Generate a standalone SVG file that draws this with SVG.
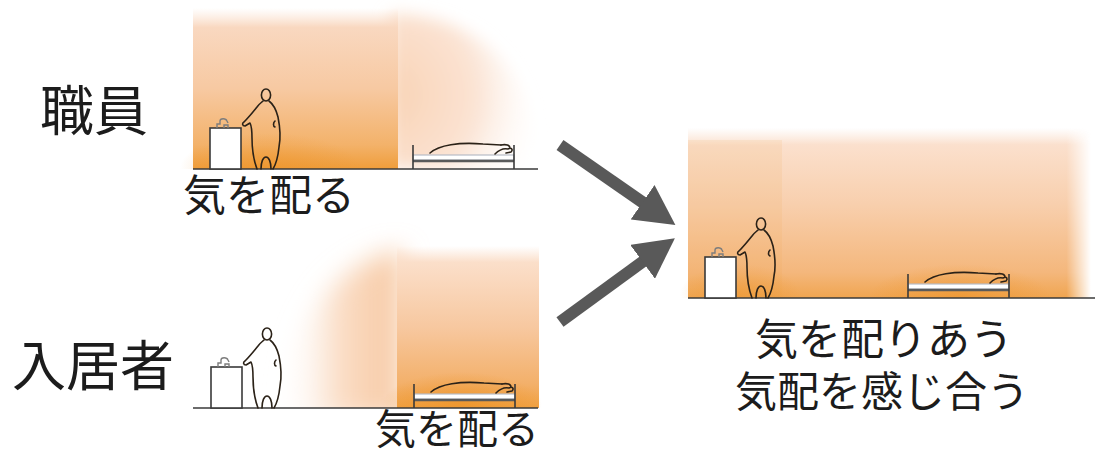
<svg xmlns="http://www.w3.org/2000/svg" xmlns:xlink="http://www.w3.org/1999/xlink" width="1095" height="455" viewBox="0 0 1095 455">
<style>
  .ln{fill:none;stroke:#2b2218;stroke-width:1.6;stroke-linecap:round;stroke-linejoin:round}
  .floor{stroke:#3a3a3a;stroke-width:1.6}
  .lbl{font-family:"Noto Sans CJK JP","Noto Sans CJK SC",sans-serif;fill:#1c1c1c}
  .arrow{stroke:#595959;stroke-width:12;fill:none}
</style>
<defs>
  <filter id="soft" x="-20%" y="-20%" width="140%" height="140%"><feGaussianBlur stdDeviation="8"/></filter>
  <filter id="softer" x="-30%" y="-30%" width="160%" height="160%"><feGaussianBlur stdDeviation="13"/></filter>

  <!-- each room's wash stays above its floor line -->
  <clipPath id="room1"><rect x="150" y="0" width="400" height="169"/></clipPath>
  <clipPath id="room2"><rect x="150" y="200" width="400" height="208"/></clipPath>
  <clipPath id="room3"><rect x="680" y="110" width="415" height="188"/></clipPath>

  <!-- warm vertical wash: pale at the ceiling, deep orange at the floor -->
  <linearGradient id="warmV1" x1="0" y1="8" x2="0" y2="169" gradientUnits="userSpaceOnUse">
    <stop offset="0" stop-color="#fbe1cf" stop-opacity="0"/>
    <stop offset="0.12" stop-color="#f9d8c0"/>
    <stop offset="0.5" stop-color="#f7c9a2"/>
    <stop offset="0.85" stop-color="#f3b26a"/>
    <stop offset="1" stop-color="#ef9d3a"/>
  </linearGradient>
  <radialGradient id="fadeR1" cx="385" cy="95" r="165" gradientUnits="userSpaceOnUse">
    <stop offset="0" stop-color="#f8d2b3"/>
    <stop offset="0.55" stop-color="#fbe3d3"/>
    <stop offset="1" stop-color="#ffffff" stop-opacity="0"/>
  </radialGradient>

  <linearGradient id="warmV2" x1="0" y1="246" x2="0" y2="408" gradientUnits="userSpaceOnUse">
    <stop offset="0" stop-color="#fbe1cf" stop-opacity="0"/>
    <stop offset="0.1" stop-color="#fbdfca"/>
    <stop offset="0.5" stop-color="#f7c8a0"/>
    <stop offset="0.85" stop-color="#f3b06a"/>
    <stop offset="1" stop-color="#f0a040"/>
  </linearGradient>
  <linearGradient id="fadeL2" x1="280" y1="0" x2="400" y2="0" gradientUnits="userSpaceOnUse">
    <stop offset="0" stop-color="#ffffff" stop-opacity="0"/>
    <stop offset="0.5" stop-color="#fadcc4"/>
    <stop offset="1" stop-color="#f7c9a3"/>
  </linearGradient>

  <linearGradient id="warmV3" x1="0" y1="128" x2="0" y2="298" gradientUnits="userSpaceOnUse">
    <stop offset="0" stop-color="#fce4d4" stop-opacity="0"/>
    <stop offset="0.1" stop-color="#fbe0cd"/>
    <stop offset="0.45" stop-color="#f8cfad"/>
    <stop offset="0.85" stop-color="#f4b77c"/>
    <stop offset="1" stop-color="#f0a550"/>
  </linearGradient>
  <linearGradient id="edgeR3" x1="688" y1="0" x2="1095" y2="0" gradientUnits="userSpaceOnUse">
    <stop offset="0" stop-color="#fff"/>
    <stop offset="0.93" stop-color="#fff"/>
    <stop offset="0.99" stop-color="#000"/>
  </linearGradient>
  <mask id="m3"><rect x="680" y="120" width="415" height="190" fill="url(#edgeR3)"/></mask>

  <radialGradient id="glow" cx="0.5" cy="0.5" r="0.5">
    <stop offset="0" stop-color="#ee9428" stop-opacity="0.75"/>
    <stop offset="1" stop-color="#ee9428" stop-opacity="0"/>
  </radialGradient>

  <!-- wash basin with a person standing beside it; origin = basin's left foot on the floor -->
  <g id="carer">
    <rect x="0" y="-41" width="31" height="41" fill="#ffffff" stroke="#3a3a3a" stroke-width="1.6"/>
    <path d="M7,-41 v-4 h3 v-3 c0,-3 6,-3 7,0 l1,2 M14,-41 v-3 h4 v3" fill="none" stroke="#7d7d7d" stroke-width="1.4"/>
    <ellipse cx="56" cy="-74" rx="4.6" ry="6" class="ln"/>
    <path class="ln" d="M47,0 C44,-8 42,-20 42,-31 C42,-39 41,-44 40,-46 L35,-43 C32,-43 32,-46 34,-47 C38,-51 43,-57 47,-62 C49,-65 52,-67 53,-68"/>
    <path class="ln" d="M59,-68 C63,-65 66,-60 68,-52 C70,-42 71,-32 69,-22 C68,-12 66,-5 63,0"/>
    <path class="ln" d="M51,0 C51,-7 53,-12 56,-12 C59,-12 61,-7 61,0"/>
    <path class="ln" d="M65,-48 C63,-46 63,-43 65,-42"/>
  </g>

  <!-- bed with a person lying on it; origin = left bed post on the floor -->
  <g id="bed">
    <rect x="0" y="-14" width="101" height="5" fill="#ffffff" stroke="#b8bcc6" stroke-width="1.2"/>
    <line x1="0" y1="-8" x2="101" y2="-8" stroke="#5a5a5a" stroke-width="2.6"/>
    <line x1="0" y1="-24" x2="0" y2="0" stroke="#3a3a3a" stroke-width="1.6"/>
    <line x1="101" y1="-24" x2="101" y2="0" stroke="#3a3a3a" stroke-width="1.6"/>
    <path class="ln" d="M17,-16 C26,-24 46,-27 70,-25 L88,-24"/>
    <path class="ln" d="M82,-15 C86,-19 91,-21 95,-20 C99,-22 100,-19 98,-17 L93,-16 M88,-24 C93,-25 97,-24 97,-21"/>
  </g>

  <marker id="head" markerUnits="userSpaceOnUse" markerWidth="40" markerHeight="42" viewBox="0 0 40 42" refX="3" refY="21" orient="auto">
    <path d="M0,0 L40,21 L0,42 Z" fill="#595959"/>
  </marker>
</defs>

<rect width="1095" height="455" fill="#ffffff"/>

<!-- staff: attention given -->
<g id="node-staff">
  <g clip-path="url(#room1)">
    <path d="M390,14 C455,14 505,45 525,100 C535,130 538,150 538,169 L390,169 Z" fill="url(#fadeR1)" filter="url(#soft)"/>
    <rect x="193" y="8" width="205" height="161" fill="url(#warmV1)"/>
    <ellipse cx="270" cy="168" rx="90" ry="35" fill="url(#glow)" opacity="0.7"/>
  </g>
  <line x1="193" y1="169" x2="538" y2="169" class="floor"/>
  <use href="#carer" x="210" y="169"/>
  <use href="#bed" x="413" y="169"/>
  <text class="lbl" x="40" y="131" font-size="54">職員</text>
  <text class="lbl" x="183" y="211" font-size="43">気を配る</text>
</g>

<!-- resident: attention given -->
<g id="node-resident">
  <g clip-path="url(#room2)">
    <path d="M288,420 C284,335 330,262 402,250 L402,420 Z" fill="url(#fadeL2)" filter="url(#softer)"/>
    <rect x="397" y="246" width="142" height="162" fill="url(#warmV2)"/>
    <ellipse cx="462" cy="404" rx="80" ry="32" fill="url(#glow)"/>
  </g>
  <line x1="193" y1="408" x2="538" y2="408" class="floor"/>
  <use href="#carer" x="211" y="408"/>
  <use href="#bed" x="414" y="408"/>
  <text class="lbl" x="12" y="386" font-size="54">入居者</text>
  <text class="lbl" x="375" y="444" font-size="41">気を配る</text>
</g>

<!-- shared space: attention exchanged -->
<g id="node-shared">
  <g mask="url(#m3)" clip-path="url(#room3)">
    <rect x="688" y="126" width="405" height="172" fill="url(#warmV3)"/>
    <rect x="688" y="140" width="94" height="158" fill="#f2a848" opacity="0.12"/>
    <ellipse cx="960" cy="296" rx="90" ry="32" fill="url(#glow)" opacity="0.8"/>
    <ellipse cx="740" cy="294" rx="60" ry="30" fill="url(#glow)" opacity="0.6"/>
  </g>
  <line x1="688" y1="298" x2="1095" y2="298" class="floor"/>
  <use href="#carer" x="705" y="298"/>
  <use href="#bed" x="908" y="298"/>
  <text class="lbl" x="884" y="355" font-size="43" text-anchor="middle">気を配りあう</text>
  <text class="lbl" x="882" y="407" font-size="42" text-anchor="middle">気配を感じ合う</text>
</g>

<g id="connectors">
  <line class="arrow" x1="560" y1="145" x2="645" y2="204" marker-end="url(#head)"/>
  <line class="arrow" x1="560" y1="322" x2="645" y2="260" marker-end="url(#head)"/>
</g>
</svg>
